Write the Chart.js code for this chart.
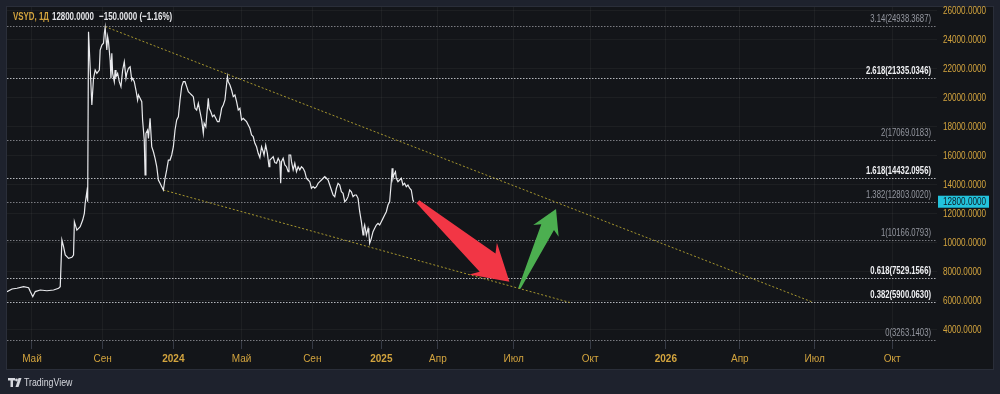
<!DOCTYPE html>
<html>
<head>
<meta charset="utf-8">
<script src="https://cdn.jsdelivr.net/npm/chart.js@4.4.1/dist/chart.umd.min.js"></script>
<style>
    html, body { margin: 0; padding: 0; background: #1e222d; }
    #wrap { width: 1000px; height: 394px; }
</style>
</head>
<body>
<div id="wrap"><canvas id="myChart" width="1000" height="394"></canvas></div>
<script>
// bar index (trading days from the left edge) and daily close
const BAR_IDX = [
    0, 6, 12, 20, 26, 28, 31, 34, 40, 48, 56, 62, 64,
    66, 68, 70, 74, 78, 80, 81, 84, 88, 91, 93, 94, 96, 97, 98,
    102, 104, 106, 108, 111, 112, 114, 116, 117, 118, 120, 121, 122, 124, 125, 126, 127,
    129, 130, 131, 133, 135, 137, 139, 141, 143, 144, 146, 148, 150, 151, 153, 155, 157, 158,
    160, 162, 163, 165, 166, 167, 169, 170, 172, 174, 176, 178, 180, 182, 184, 186, 188,
    190, 192, 194, 196, 198, 200, 202, 204, 206, 208, 210, 212, 214, 216, 218, 220, 222, 224,
    226, 228, 230, 232, 234, 236, 237, 239, 240, 242, 243, 245, 247, 249, 251, 253, 255, 257,
    258, 260, 262, 263, 265, 266, 268, 270, 272, 274, 276, 278, 280, 282, 284, 286, 288, 290,
    292, 294, 296, 298, 300, 302, 304, 306, 308, 309, 311, 313, 315, 316, 318, 320, 322, 324,
    326, 328, 329, 330, 332, 334, 336, 338, 339, 341, 342, 344, 346, 348, 350, 352, 354, 356,
    358, 360, 362, 364, 366, 368, 370, 372, 374, 376, 378, 380, 382, 384, 386, 388, 390, 392,
    394, 396, 398, 400, 402, 404, 406, 408, 410, 412, 414, 416, 418, 420, 422, 424, 426, 428,
    429, 430, 432, 434, 435, 436, 438, 440, 442, 444, 446, 448, 450, 452, 454, 456, 458, 460,
    461, 462, 463, 464, 465, 467, 468, 470, 472, 474, 476, 478, 480, 482, 484, 486, 488, 489
];
const CLOSE = [
    6585, 6770, 6820, 6930, 6860, 6590, 6240, 6590, 6700, 6650, 6700, 6820, 6930,
    10150, 9690, 9120, 8890, 8960, 9120, 11420, 10840, 11075, 11535, 12000, 12690, 13490, 12800, 24550,
    19480, 21330, 21900, 21670, 21900, 23285, 23630, 23750, 24440, 24850, 23285, 24200, 23860, 22590, 21330, 23060, 21670,
    21095, 21900, 21440, 21670, 21095, 20750, 21900, 22475, 21330, 21670, 22020, 22130, 21210, 21330, 21095, 20520, 19830, 20175,
    19945, 19710, 18450, 17065, 14650, 17530, 17755, 17180, 18565, 16600, 16255, 15800, 15220, 14300, 14070, 13840, 13610,
    14420, 15000, 15680, 15680, 16030, 16600, 17755, 18450, 18675, 19830, 20750, 21095, 21095, 20750, 20400, 20290, 20175, 20060,
    19255, 19140, 19600, 19020, 18450, 17530, 18220, 17985, 18675, 19945, 19255, 19020, 18675, 18790, 18565, 18330, 18330, 18910,
    19255, 19480, 19830, 20400, 21440, 21095, 20865, 20520, 20060, 20175, 19710, 19140, 19255, 18450, 18565, 18450, 18330, 18100,
    17875, 17410, 17295, 16835, 16600, 16145, 15850, 16600, 16255, 16030, 16720, 16145, 15220, 15680, 15800, 15910, 15500, 15455,
    15800, 15570, 14070, 15570, 15800, 15340, 15220, 14875, 16030, 16030, 15570, 15000, 15455, 14875, 15220, 15000, 15220, 15110,
    14875, 14420, 14300, 14185, 13730, 13840, 13730, 13840, 14070, 14185, 14300, 14420, 14530, 14420, 14300, 13955, 13610, 13265,
    13150, 13730, 14070, 13955, 13490, 13380, 12800, 12920, 13150, 13610, 13490, 13150, 13265, 13265, 13035, 12110, 11420, 10500,
    10960, 11190, 10500, 10960, 10615, 9930, 10270, 10730, 10960, 11190, 11310, 11190, 11420, 11650, 11880, 12110, 12575, 12800,
    13490, 14185, 15110, 14420, 14650, 14875, 14420, 14185, 14300, 14420, 13955, 14070, 13840, 13955, 13730, 13610, 12920, 12800
];

const TICK_BARS = [30, 115, 200, 282, 367, 450, 518, 609, 701, 792, 881, 971, 1064];
const TICK_LABELS = ['Май', 'Сен', '2024', 'Май', 'Сен', '2025', 'Апр', 'Июл', 'Окт', '2026', 'Апр', 'Июл', 'Окт'];
const PRICE_TICKS = [4000, 6000, 8000, 10000, 12000, 14000, 16000, 18000, 20000, 22000, 24000, 26000];

const FIB_LEVELS = ['3.14', '2.618', '2', '1.618', '1.382', '1', '0.618', '0.382', '0'];
const FIB_PRICES = [24938.3687, 21335.0346, 17069.0183, 14432.0956, 12803.0020, 10166.0793, 7529.1566, 5900.0630, 3263.1403];
const FIB_BOLD = [false, true, false, true, false, false, true, true, false];

const UPPER_TREND_BARS = [118, 968];
const UPPER_TREND_PRICES = [24900, 5870];
const LOWER_TREND_BARS = [188, 679];
const LOWER_TREND_PRICES = [13610, 5800];

// arrows: [tailBar, tailPrice, tipBar, tipPrice]
const RED_ARROW = [494, 12800, 604, 7274];
const GREEN_ARROW = [616, 6818, 660, 12297];

const SYMBOL = 'VSYD, 1Д';
const LAST_PRICE = 12800;
const CHANGE_TEXT = '−150.0000 (−1.16%)';

const FONT = "'Liberation Sans', sans-serif";
const GOLD = '#d3a43e';
const PANE = '#131519';
const OUTER = '#1e222d';

Chart.defaults.font.family = FONT;

function toPoints(xs, ys) {
    return xs.map((x, i) => ({ x: x, y: ys[i] }));
}

// narrow text: squeeze the normal face to a share of its width
function narrowText(c, text, x, y, ratio) {
    var w = c.measureText(text).width;
    c.fillText(text, x, y, w * ratio);
}

function drawArrow(ctx, x0, y0, x1, y1, hb, hw, jb, jw, tw, color) {
    var dx = x1 - x0, dy = y1 - y0;
    var len = Math.sqrt(dx * dx + dy * dy);
    var ux = dx / len, uy = dy / len;
    var nx = -uy, ny = ux;
    ctx.save();
    ctx.fillStyle = color;
    ctx.beginPath();
    ctx.moveTo(x1, y1);
    ctx.lineTo(x1 - ux * hb + nx * hw, y1 - uy * hb + ny * hw);
    ctx.lineTo(x1 - ux * jb + nx * jw, y1 - uy * jb + ny * jw);
    ctx.lineTo(x0 + nx * tw, y0 + ny * tw);
    ctx.lineTo(x0 - nx * tw, y0 - ny * tw);
    ctx.lineTo(x1 - ux * jb - nx * jw, y1 - uy * jb - ny * jw);
    ctx.lineTo(x1 - ux * hb - nx * hw, y1 - uy * hb - ny * hw);
    ctx.closePath();
    ctx.fill();
    ctx.restore();
}

const frame = {
    id: 'frame',
    beforeDraw(chart) {
        const c = chart.ctx;
        c.save();
        c.fillStyle = OUTER;
        c.fillRect(0, 0, chart.width, chart.height);
        c.fillStyle = PANE;
        c.fillRect(7, 7, 986, 362);
        c.strokeStyle = '#2a2e39';
        c.lineWidth = 1;
        c.strokeRect(6.5, 6.5, 987, 363);
        c.restore();
    }
};

const fibs = {
    id: 'fibs',
    beforeDatasetsDraw(chart) {
        const c = chart.ctx, a = chart.chartArea, y = chart.scales.y;
        c.save();
        c.lineWidth = 1;
        c.setLineDash([1.5, 1.5]);
        FIB_PRICES.forEach((p, i) => {
            const py = Math.round(y.getPixelForValue(p)) + 0.5;
            c.strokeStyle = FIB_BOLD[i] ? 'rgba(220,222,228,0.8)' : 'rgba(190,192,198,0.6)';
            c.beginPath();
            c.moveTo(a.left, py);
            c.lineTo(a.right, py);
            c.stroke();
        });
        c.restore();
    },
    afterDatasetsDraw(chart) {
        const c = chart.ctx, a = chart.chartArea, y = chart.scales.y, x = chart.scales.x;
        c.save();
        c.textAlign = 'right';
        c.textBaseline = 'middle';
        FIB_PRICES.forEach((p, i) => {
            const py = y.getPixelForValue(p);
            c.font = (FIB_BOLD[i] ? 'bold ' : '') + '11px ' + FONT;
            c.fillStyle = FIB_BOLD[i] ? '#f0f1f4' : '#9598a1';
            narrowText(c, FIB_LEVELS[i] + '(' + p.toFixed(4) + ')', a.right - 6, py - 7, 0.7);
        });
        c.restore();

        const r = RED_ARROW, g = GREEN_ARROW;
        drawArrow(c, x.getPixelForValue(r[0]), y.getPixelForValue(r[1]),
            x.getPixelForValue(r[2]), y.getPixelForValue(r[3]), 35, 21, 29, 12, 2, '#f23645');
        drawArrow(c, x.getPixelForValue(g[0]), y.getPixelForValue(g[1]),
            x.getPixelForValue(g[2]), y.getPixelForValue(g[3]), 24, 14, 20, 7, 1.2, '#4caf50');
    }
};

const overlay = {
    id: 'overlay',
    afterDraw(chart) {
        const c = chart.ctx, y = chart.scales.y, a = chart.chartArea;
        c.save();
        c.textBaseline = 'middle';
        c.textAlign = 'left';

        // price axis labels
        c.font = '11px ' + FONT;
        c.fillStyle = GOLD;
        PRICE_TICKS.forEach((v) => {
            narrowText(c, v.toFixed(4), a.right + 6, y.getPixelForValue(v) + 0.5, 0.74);
        });

        // header
        c.font = 'bold 11px ' + FONT;
        c.fillStyle = GOLD;
        narrowText(c, SYMBOL, 13, 17, 0.72);
        c.fillStyle = '#e6e7ea';
        narrowText(c, LAST_PRICE.toFixed(4), 52, 17, 0.72);
        narrowText(c, CHANGE_TEXT, 99, 17, 0.73);

        // last price tag
        const py = y.getPixelForValue(LAST_PRICE);
        c.fillStyle = '#22c3dc';
        c.fillRect(a.right + 1, py - 6, 51, 12);
        c.fillStyle = '#0f1a22';
        c.font = '11px ' + FONT;
        narrowText(c, LAST_PRICE.toFixed(4), a.right + 6, py + 0.5, 0.74);

        // logo
        c.fillStyle = '#d6d8de';
        c.fillRect(8, 378, 7, 2.5);
        c.fillRect(10.5, 378, 2.5, 9);
        c.beginPath();
        c.arc(16.5, 380, 1.4, 0, Math.PI * 2);
        c.fill();
        c.beginPath();
        c.moveTo(18.5, 378);
        c.lineTo(21.5, 378);
        c.lineTo(18.5, 387);
        c.lineTo(15.5, 387);
        c.closePath();
        c.fill();
        c.font = '11px ' + FONT;
        narrowText(c, 'TradingView', 24, 382.5, 0.8);
        c.restore();
    }
};

var ctx = document.getElementById('myChart');
var myChart = new Chart(ctx, {
    type: 'line',
    data: {
        datasets: [
            {
                data: toPoints(BAR_IDX, CLOSE),
                borderColor: '#e9eaed',
                borderWidth: 1.2,
                pointRadius: 0,
                tension: 0
            },
            {
                data: toPoints(UPPER_TREND_BARS, UPPER_TREND_PRICES),
                borderColor: '#a6962e',
                borderWidth: 1,
                borderDash: [2, 2],
                pointRadius: 0
            },
            {
                data: toPoints(LOWER_TREND_BARS, LOWER_TREND_PRICES),
                borderColor: '#a6962e',
                borderWidth: 1,
                borderDash: [2, 2],
                pointRadius: 0
            }
        ]
    },
    options: {
        responsive: false,
        animation: false,
        devicePixelRatio: 1,
        layout: { padding: { left: 7, top: 7, right: 7, bottom: 25 } },
        plugins: { legend: { display: false }, tooltip: { enabled: false } },
        scales: {
            x: {
                type: 'linear',
                min: 0,
                max: 1118,
                afterBuildTicks: (s) => { s.ticks = TICK_BARS.map(v => ({ value: v })); },
                afterFit: (s) => { s.height = 28; },
                grid: {
                    color: 'rgba(255,255,255,0.045)',
                    tickColor: '#363a45',
                    tickLength: 8,
                    drawTicks: true
                },
                border: { display: false },
                ticks: {
                    autoSkip: false,
                    maxRotation: 0,
                    padding: 4,
                    color: GOLD,
                    font: (c) => ({ size: 10, weight: /^\d/.test(TICK_LABELS[c.index] || '') ? 'bold' : 'normal' }),
                    callback: (v, i) => TICK_LABELS[i]
                }
            },
            y: {
                position: 'right',
                min: 3176,
                max: 26256,
                afterBuildTicks: (s) => { s.ticks = PRICE_TICKS.map(v => ({ value: v })); },
                afterFit: (s) => { s.width = 56; },
                grid: { color: 'rgba(255,255,255,0.045)', drawTicks: false },
                border: { display: false },
                ticks: { display: false }
            }
        }
    },
    plugins: [frame, fibs, overlay]
});
</script>
</body>
</html>
